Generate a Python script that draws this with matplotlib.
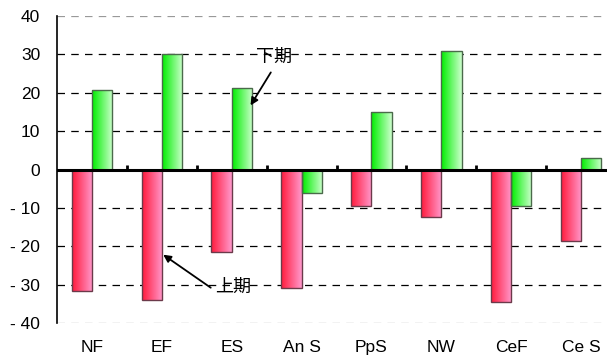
import numpy as np
import matplotlib.pyplot as plt
from matplotlib.colors import LinearSegmentedColormap

plt.rcParams['font.family'] = ['Liberation Sans', 'Noto Sans CJK JP', 'DejaVu Sans']

# data
categories = ["NF", "EF", "ES", "An S", "PpS", "NW", "CeF", "Ce S"]
first_half = [-31.7, -34.0, -21.4, -30.9, -9.4, -12.3, -34.5, -18.6]   # 上期
second_half = [20.8, 30.1, 21.2, -6.2, 14.9, 30.8, -9.4, 3.0]          # 下期
yticks = [-40, -30, -20, -10, 0, 10, 20, 30, 40]

red_cmap = LinearSegmentedColormap.from_list("red", ["#ff1a3c", "#ff99cc"])
green_cmap = LinearSegmentedColormap.from_list("green", ["#00ee00", "#ccffcc"])

fig = plt.figure(figsize=(6.07, 3.63), dpi=100)
# axes runs past the right edge of the image, like the original
ax = fig.add_axes([57 / 607, 1 - 323 / 363, 559 / 607, 307 / 363])

x = np.arange(len(categories))
w = 0.29
grad = np.linspace(0, 1, 64).reshape(1, -1)


def gradient_bars(xs, vals, cmap, edge):
    bars = ax.bar(xs, vals, width=w, facecolor='none', edgecolor=edge,
                  linewidth=1.0, zorder=3)
    for b in bars:
        x0, y0 = b.get_x(), b.get_y()
        im = ax.imshow(grad, cmap=cmap, aspect='auto', zorder=2,
                       extent=[x0, x0 + b.get_width(), y0, y0 + b.get_height()])
        im.set_clip_path(b)


gradient_bars(x - w / 2, first_half, red_cmap, '#6b3a4a')
gradient_bars(x + w / 2, second_half, green_cmap, '#4a6a4a')

ax.set_xlim(-0.5, len(categories) - 0.5)
ax.set_ylim(-40, 40)

# dashed grid
for yv in yticks:
    if yv == 0:
        continue
    col = '#999999' if abs(yv) == 40 else 'black'
    ax.axhline(yv, color=col, linestyle=(0, (6, 5)), linewidth=0.9, zorder=1)
ax.axhline(0, color='black', linewidth=2.2, zorder=4)
for xb in np.arange(0.5, len(categories) - 0.5, 1):
    ax.plot([xb, xb], [0, 1.3], color='black', linewidth=2, zorder=4,
            solid_capstyle='butt')

for s in ['top', 'right', 'bottom']:
    ax.spines[s].set_visible(False)
ax.spines['left'].set_linewidth(1.2)

ax.set_yticks(yticks)
ax.set_yticklabels([str(v).replace('-', '- ') for v in yticks], fontsize=12.5)
ax.tick_params(axis='y', length=0, pad=12)
ax.set_xticks(x)
ax.set_xticklabels(categories, fontsize=12.5)
ax.tick_params(axis='x', length=0, pad=12)

arrow = dict(arrowstyle='-|>', color='black', lw=1.3, shrinkA=0, shrinkB=0,
             mutation_scale=11)
ax.annotate("", xy=(2.27, 16.7), xytext=(2.56, 25.3), arrowprops=arrow)
ax.text(2.35, 29.2, "下期", fontsize=13, ha='left', va='center')
ax.annotate("", xy=(1.02, -22.2), xytext=(1.70, -30.8), arrowprops=arrow)
ax.text(1.76, -30.8, "上期", fontsize=13, ha='left', va='center')

fig.savefig("out.png", dpi=100)
